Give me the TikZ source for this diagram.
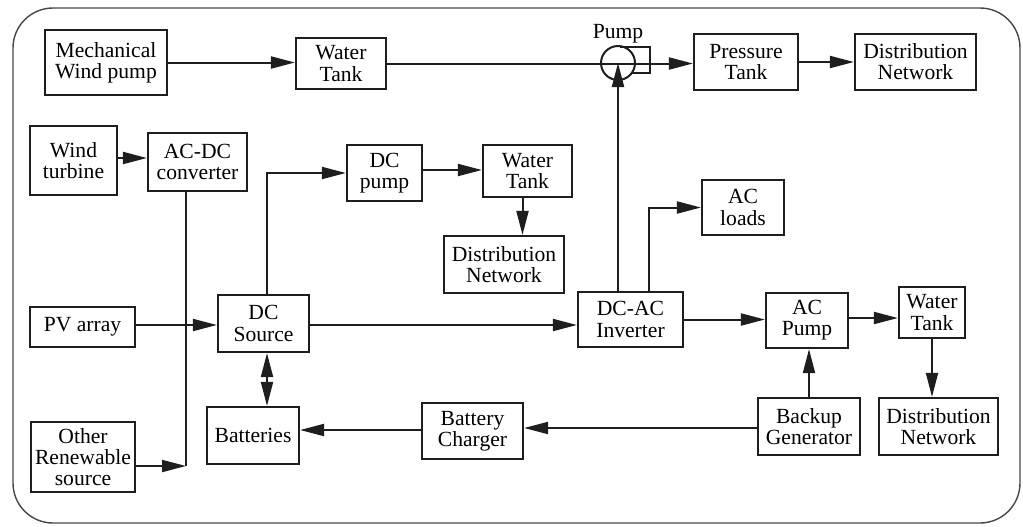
\documentclass[tikz,border=0pt]{standalone}
\usepackage{fontspec}
\setmainfont{Liberation Serif}
\newfontfamily\diagfont{Liberation Serif}
\usetikzlibrary{arrows.meta,positioning,calc}
\definecolor{SysInk}{RGB}{30,30,30}
\definecolor{SysFrame}{RGB}{70,70,70}
\tikzset{
  sys/box/.style={
    draw=SysInk,
    line width=1.1pt,
    fill=white,
    align=center,
    text=black,
    inner sep=0pt,
    font=\diagfont\fontsize{10.8}{10.6}\selectfont
  },
  sys/pump/.style={circle, draw=SysInk, line width=1pt, minimum size=17pt, inner sep=0pt},
  sys/label/.style={font=\diagfont\fontsize{10.8}{10.6}\selectfont, inner sep=0pt},
  sys/line/.style={line width=1pt, draw=SysInk},
  sys/arrow/.style={-{Triangle[length=12pt,width=6pt]}, line width=1pt, draw=SysInk},
  sys/twoway/.style={{Triangle[length=12pt,width=6pt]}-{Triangle[length=12pt,width=6pt]}, line width=1pt, draw=SysInk},
  sys/frame/.style={draw=SysFrame, line width=0.7pt, rounded corners=20pt}
}
\begin{document}
\begin{tikzpicture}[x=0.5pt,y=-0.5pt]
  \useasboundingbox (0,0) rectangle (1023,526);
  \draw[sys/frame] (13,8) rectangle (1020,523);

  % water pumping by wind
  \node[sys/box,minimum width=61pt,minimum height=32.5pt] (mwp) at (106,62.5) {Mechanical\\Wind pump};
  \node[sys/box,minimum width=45pt,minimum height=25.5pt] (tank1) at (341,63.5) {Water\\Tank};
  \node[sys/pump] (pump) at (618,63) {};
  \node[sys/label,above=1pt of pump] (pumplbl) {Pump};
  \node[sys/box,minimum width=52pt,minimum height=28pt] (ptank) at (746,62) {Pressure\\Tank};
  \node[sys/box,minimum width=60.5pt,minimum height=28pt] (dist1) at (915.5,62) {Distribution\\Network};

  % sources
  \node[sys/box,minimum width=43.5pt,minimum height=34.5pt] (wturb) at (73.5,160.5) {Wind\\turbine};
  \node[sys/box,minimum width=49.5pt,minimum height=29pt] (acdc) at (197.5,162) {AC-DC\\converter};
  \node[sys/box,minimum width=52.5pt,minimum height=20pt] (pv) at (82.5,327) {PV array};
  \node[sys/box,minimum width=52pt,minimum height=35pt] (other) at (83,457) {Other\\Renewable\\source};
  \node[sys/box,minimum width=45.5pt,minimum height=28.5pt] (dcsrc) at (263.5,323.5) {DC\\Source};
  \node[sys/box,minimum width=46pt,minimum height=28.5pt] (batt) at (253,435.5) {Batteries};
  \node[sys/box,minimum width=50.5pt,minimum height=28pt] (charger) at (472.5,431) {Battery\\Charger};

  % DC branch
  \node[sys/box,minimum width=37.5pt,minimum height=28pt] (dcpump) at (384.5,173) {DC\\pump};
  \node[sys/box,minimum width=44.5pt,minimum height=26pt] (tank2) at (527.5,171) {Water\\Tank};
  \node[sys/box,minimum width=60pt,minimum height=28.5pt] (dist2) at (504,264.5) {Distribution\\Network};

  % AC branch
  \node[sys/box,minimum width=52.5pt,minimum height=27.5pt] (inv) at (630.5,319.5) {DC-AC\\Inverter};
  \node[sys/box,minimum width=41pt,minimum height=27.5pt] (acload) at (743,207.5) {AC\\loads};
  \node[sys/box,minimum width=41pt,minimum height=27.5pt] (acpump) at (807,320.5) {AC\\Pump};
  \node[sys/box,minimum width=33pt,minimum height=25.5pt] (tank3) at (932,312.5) {Water\\Tank};
  \node[sys/box,minimum width=59.5pt,minimum height=28.5pt] (dist3) at (938.5,426.5) {Distribution\\Network};
  \node[sys/box,minimum width=51pt,minimum height=28.5pt] (backup) at (809,426.5) {Backup\\Generator};

  \coordinate (join) at (186,466);

  % connectors
  \draw[sys/arrow] (mwp.east) -- (mwp.east -| tank1.west);
  \draw[sys/arrow] (tank1.east) -- (tank1.east -| ptank.west);
  \draw[sys/line] ($(pump.center)+(2,-16)$) -- ++(30,0) -- ++(0,26) -- ++(-18,0);
  \draw[sys/arrow] (ptank) -- (dist1);
  \draw[sys/arrow] (inv.north -| pump) -- (pump.center);

  \draw[sys/arrow] (wturb.east |- 0,158) -- (acdc.west |- 0,158);
  \draw[sys/line] (acdc.south -| join) -- (join);
  \draw[sys/arrow] (other.east |- join) -- (join);
  \draw[sys/arrow] (pv.east |- 0,325) -- (dcsrc.west |- 0,325);

  \draw[sys/arrow] ($(dcsrc.north)+(3.5,0)$) |- (dcpump.west);
  \draw[sys/arrow] (dcpump.east |- 0,170) -- (tank2.west |- 0,170);
  \draw[sys/arrow] ($(tank2.south)+(-5,0)$) -- ($(tank2.south |- dist2.north)+(-5,0)$);
  \draw[sys/arrow] (dcsrc.east |- 0,325) -- (inv.west |- 0,325);
  \draw[sys/twoway] ($(dcsrc.south)+(3.5,0)$) -- ($(dcsrc.south |- batt.north)+(3.5,0)$);

  \draw[sys/arrow] ($(inv.north)+(18.5,0)$) |- (acload.west);
  \draw[sys/arrow] (inv.east) -- (inv.east -| acpump.west);
  \draw[sys/arrow] (acpump.east |- 0,318) -- (tank3.west |- 0,318);
  \draw[sys/arrow] (tank3.south) -- (tank3.south |- dist3.north);
  \draw[sys/arrow] (backup.north) -- (backup.north |- acpump.south);
  \draw[sys/arrow] (backup.west |- 0,428) -- (charger.east |- 0,428);
  \draw[sys/arrow] (charger.west |- 0,430) -- (batt.east |- 0,430);
\end{tikzpicture}
\end{document}
